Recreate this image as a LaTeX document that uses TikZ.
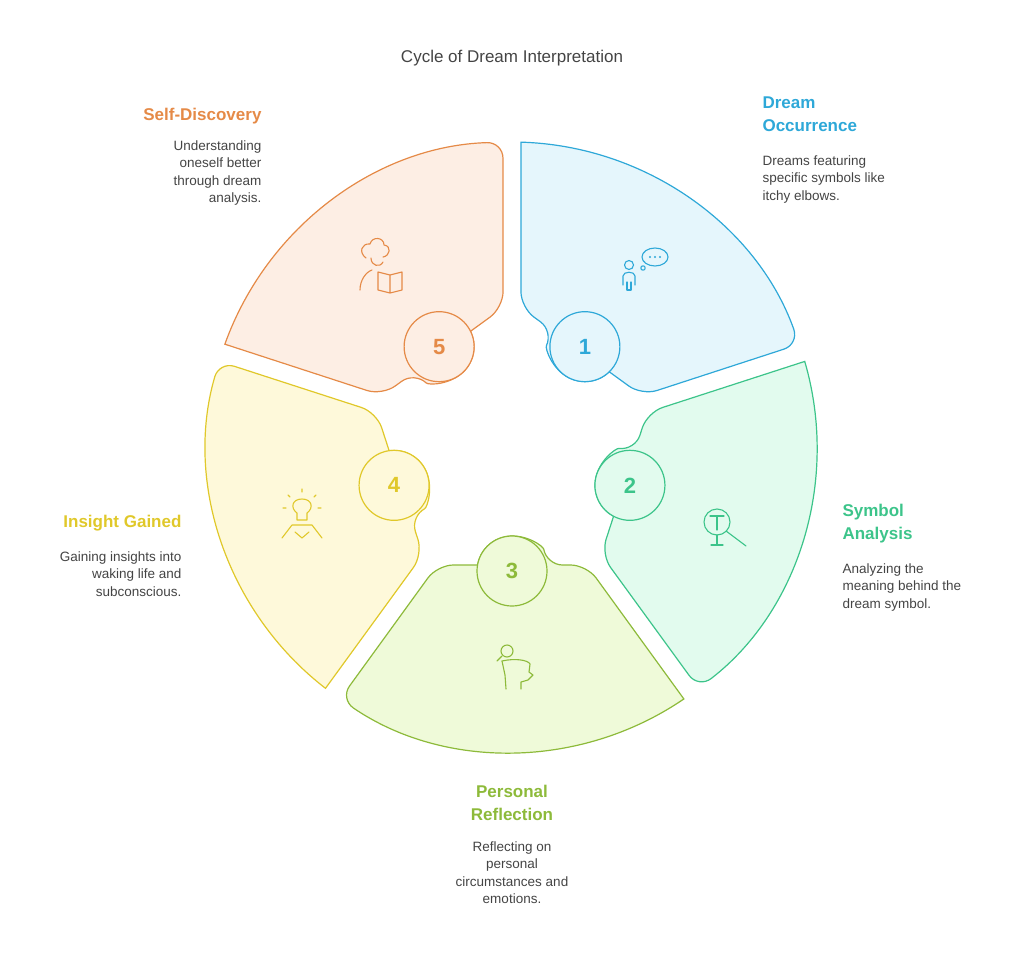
\documentclass[tikz,border=0pt]{standalone}
\usepackage{fontspec}
\setmainfont{Liberation Sans}
\usetikzlibrary{calc}
\definecolor{fA}{HTML}{E5F6FC}\definecolor{sA}{HTML}{2EA8D8}
\definecolor{fB}{HTML}{E2FBEE}\definecolor{sB}{HTML}{3CC48A}
\definecolor{fC}{HTML}{EFFAD9}\definecolor{sC}{HTML}{8DBA3A}
\definecolor{fD}{HTML}{FEF9DA}\definecolor{sD}{HTML}{E0C82A}
\definecolor{fE}{HTML}{FDEEE4}\definecolor{sE}{HTML}{E58A47}
\definecolor{txt}{HTML}{444444}
\begin{document}
\begin{tikzpicture}[x=1pt,y=-1pt,
  sector/.style={line width=1.2pt},
  numc/.style={circle,minimum size=70pt,inner sep=0pt,line width=1.2pt,font=\fontsize{22}{22}\selectfont\bfseries},
  head/.style={font=\fontsize{17}{23}\selectfont\bfseries},
  desc/.style={font=\fontsize{13.5}{17.5}\selectfont,text=txt},
  ic/.style={line width=1.1pt,line cap=round,line join=round}]
\useasboundingbox (0,0) rectangle (1024,955);
\newcommand{\sectorpath}{(118,34.5) [rounded corners=16] -- (118,74.7) -- (34.3:305) [sharp corners] arc[start angle=34.3,end angle=-34.3,radius=305] [rounded corners=16] -- (118,-74.7) -- (118,-34.5) [sharp corners] arc[start angle=260.1,end angle=99.9,radius=35] -- cycle}
\foreach \r/\f/\s in {54/fA/sA, -18/fB/sB, -90/fC/sC, -162/fD/sD, 126/fE/sE}{
  \begin{scope}[shift={(512,447)},rotate=\r]
    \draw[sector,fill=\f,draw=\s] \sectorpath;
  \end{scope}}
\node[numc,draw=sA,fill=fA,text=sA] (n1) at ($(512,447)+(-54:124)$) {1};
\node[numc,draw=sB,fill=fB,text=sB] (n2) at ($(512,447)+(18:124)$) {2};
\node[numc,draw=sC,fill=fC,text=sC] (n3) at ($(512,447)+(90:124)$) {3};
\node[numc,draw=sD,fill=fD,text=sD] (n4) at ($(512,447)+(162:124)$) {4};
\node[numc,draw=sE,fill=fE,text=sE] (n5) at ($(512,447)+(-126:124)$) {5};
% title
\node[font=\fontsize{17}{20}\selectfont,text=txt] (title) at (512,58) {Cycle of Dream Interpretation};
% labels
\node[head,text=sA,anchor=north west,align=left] (h1) at (759,93) {Dream\\Occurrence};
\node[desc,anchor=north west,align=left] (d1) at (759,152) {Dreams featuring\\specific symbols like\\itchy elbows.};
\node[head,text=sB,anchor=north west,align=left] (h2) at (839,501) {Symbol\\Analysis};
\node[desc,anchor=north west,align=left] (d2) at (839,560) {Analyzing the\\meaning behind the\\dream symbol.};
\node[head,text=sC,anchor=north,align=center] (h3) at (512,782) {Personal\\Reflection};
\node[desc,anchor=north,align=center] (d3) at (512,838) {Reflecting on\\personal\\circumstances and\\emotions.};
\node[head,text=sD,anchor=north east,align=right] (h4) at (185,512) {Insight Gained};
\node[desc,anchor=north east,align=right] (d4) at (185,548) {Gaining insights into\\waking life and\\subconscious.};
\node[head,text=sE,anchor=north east,align=right] (h5) at (265,105) {Self-Discovery};
\node[desc,anchor=north east,align=right] (d5) at (265,137) {Understanding\\oneself better\\through dream\\analysis.};
% icon 1
\begin{scope}[ic,draw=sA]
  \draw (629,265) circle (4.5);
  \draw (623,285) -- (623,276) .. controls (623,271) and (635,271) .. (635,276) -- (635,285);
  \draw (627,282) -- (627,290) -- (631,290) -- (631,282);
  \draw (643,268) circle (2.2);
  \draw (655,257) ellipse (13 and 9);
  \fill[sA] (650,257) circle (1.1) (655,257) circle (1.1) (660,257) circle (1.1);
\end{scope}
% icon 2
\begin{scope}[ic,draw=sB]
  \draw (717,522) circle (13);
  \draw (710,516) -- (724,516) (717,516) -- (717,530);
  \draw (726,531) -- (746,546);
  \draw (717,535) -- (717,545) (711,545) -- (723,545);
\end{scope}
% icon 3
\begin{scope}[ic,draw=sC]
  \draw (507,651) circle (6);
  \draw (502,656) -- (497,661);
  \draw (502,661) .. controls (515,658) and (528,660) .. (530,664) -- (529,672) -- (533,675) -- (528,680) -- (521,682) -- (521,689);
  \draw (502,661) -- (505,675) -- (506,689);
\end{scope}
% icon 4
\begin{scope}[ic,draw=sD]
  \draw (297,520) -- (297,513) .. controls (290,508) and (292,499) .. (302,499) .. controls (312,499) and (314,508) .. (307,513) -- (307,520) -- cycle;
  \draw (302,492) -- (302,489) (290,497) -- (288,495) (314,497) -- (316,495) (286,508) -- (283,508) (318,508) -- (321,508);
  \draw (282,538) -- (292,525) -- (312,525) -- (322,538) (295,532) -- (302,538) -- (309,532);
\end{scope}
% icon 5
\begin{scope}[ic,draw=sE]
  \draw (366,258) .. controls (358,252) and (362,243) .. (370,244) .. controls (372,236) and (384,237) .. (384,245) .. controls (392,246) and (390,256) .. (383,257);
  \draw (371,258) .. controls (371,266) and (380,268) .. (383,262);
  \draw (360,290) .. controls (360,280) and (366,272) .. (372,270);
  \draw (378,290) -- (378,272) -- (390,275) -- (402,272) -- (402,290) -- (390,293) -- cycle (390,275) -- (390,293);
\end{scope}
\end{tikzpicture}
\end{document}
